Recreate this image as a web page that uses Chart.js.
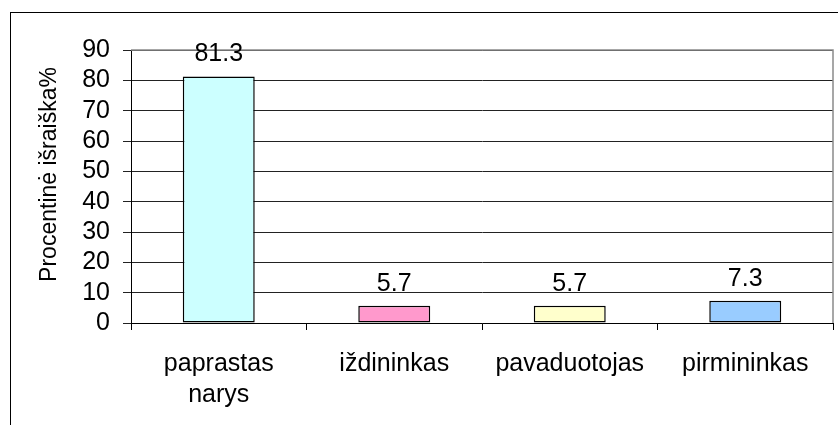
<!DOCTYPE html>
<html>
<head>
<meta charset="utf-8">
<script src="https://cdn.jsdelivr.net/npm/chart.js@4.4.1/dist/chart.umd.min.js"></script>
<style>
  html, body { margin: 0; padding: 0; background: #fff; overflow: hidden; }
  #wrap { position: relative; width: 838px; height: 425px; overflow: hidden; }
  #frame { position: absolute; left: 10px; top: 12px; width: 900px; height: 500px; border: 1px solid #000; box-sizing: border-box; }
  canvas { position: absolute; left: 0; top: 0; }
</style>
</head>
<body>
<div id="wrap">
  <div id="frame"></div>
  <canvas id="c" width="838" height="425"></canvas>
</div>
<script>
// ---- data ----
const categories = [['paprastas', 'narys'], 'iždininkas', 'pavaduotojas', 'pirmininkas'];
const values = [81.3, 5.7, 5.7, 7.3];
const yMin = 0;
const yMax = 90;
const yStep = 10;
const axisTitle = 'Procentinė išraiška%';

// ---- styles ----
const barColors = ['#CCFFFF', '#FF99CC', '#FFFFCC', '#99CCFF'];
const FONT = "'Liberation Sans', Arial, sans-serif";

const valueLabels = {
  id: 'valueLabels',
  afterDatasetsDraw(chart) {
    const ctx = chart.ctx;
    const meta = chart.getDatasetMeta(0);
    ctx.save();
    ctx.font = '25px ' + FONT;
    ctx.fillStyle = '#000';
    ctx.textAlign = 'center';
    ctx.textBaseline = 'alphabetic';
    meta.data.forEach((bar, i) => {
      ctx.fillText(values[i].toFixed(1), bar.x, bar.y - 15);
    });
    ctx.restore();
  }
};

// y-axis title, centred slightly above the middle of the plot area like the reference
const yTitle = {
  id: 'yTitle',
  afterDraw(chart) {
    const { ctx, chartArea: a } = chart;
    ctx.save();
    ctx.font = '23px ' + FONT;
    ctx.fillStyle = '#000';
    ctx.textAlign = 'center';
    ctx.textBaseline = 'middle';
    ctx.translate(a.left - 81, (a.top + a.bottom) / 2 - 12);
    ctx.rotate(-Math.PI / 2);
    ctx.fillText(axisTitle, 0, 0);
    ctx.restore();
  }
};

const plotBorder = {
  id: 'plotBorder',
  beforeDatasetsDraw(chart) {
    const { ctx, chartArea: a } = chart;
    ctx.save();
    ctx.strokeStyle = '#8a8a8a';
    ctx.lineWidth = 1.5;
    ctx.beginPath();
    ctx.moveTo(a.left, a.top);
    ctx.lineTo(a.right, a.top);
    ctx.lineTo(a.right, a.bottom);
    ctx.stroke();
    ctx.restore();
  }
};

new Chart(document.getElementById('c'), {
  type: 'bar',
  data: {
    labels: categories,
    datasets: [{
      data: values,
      backgroundColor: barColors,
      borderColor: '#000',
      borderWidth: 1.5,
      borderSkipped: false,
      barPercentage: 0.41,
      categoryPercentage: 1.0
    }]
  },
  options: {
    responsive: false,
    animation: false,
    devicePixelRatio: 1,
    layout: { padding: { top: 50, right: 5, bottom: 0, left: 0 } },
    plugins: {
      legend: { display: false },
      tooltip: { enabled: false }
    },
    scales: {
      x: {
        offset: true,
        grid: { display: true, drawOnChartArea: false, offset: true, tickLength: 7, color: '#000' },
        border: { display: true, color: '#000', width: 1 },
        ticks: { color: '#000', font: { family: FONT, size: 25, lineHeight: 1.25 }, padding: 18, maxRotation: 0, autoSkip: false },
        afterFit(scale) { scale.height = 102; }
      },
      y: {
        min: yMin,
        max: yMax,
        ticks: { stepSize: yStep, autoSkip: false, color: '#000', font: { family: FONT, size: 25 }, padding: 13 },
        grid: { color: '#222', tickLength: 8, drawTicks: true },
        border: { display: true, color: '#000', width: 1 },
        title: { display: false },
        afterFit(scale) { scale.width = 131; }
      }
    }
  },
  plugins: [plotBorder, valueLabels, yTitle]
});
</script>
</body>
</html>
